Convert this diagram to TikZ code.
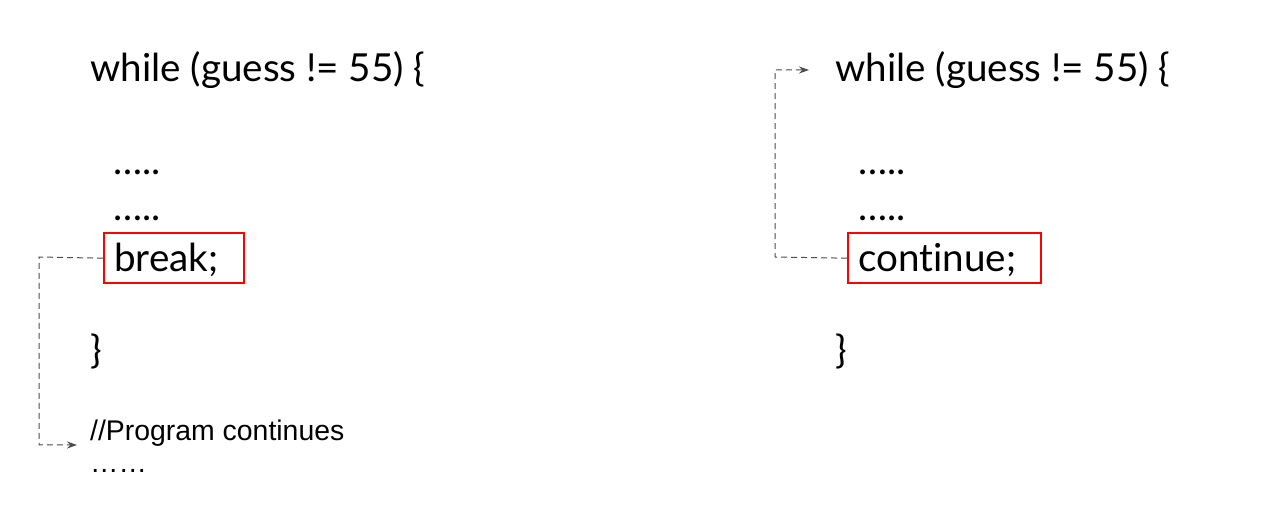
\documentclass[tikz,border=0pt]{standalone}
\usepackage{fontspec}
\setmainfont[Ligatures=NoCommon]{Lato}
\newfontfamily\arialf{Liberation Sans}
\usetikzlibrary{arrows.meta}
\tikzset{
  code/.style={anchor=base west, inner sep=0pt, font=\fontsize{38.6}{44}\selectfont},
  note/.style={anchor=base west, inner sep=0pt, font=\arialf\fontsize{28.4}{32}\selectfont},
  hl/.style={draw=red, line width=2.4pt, minimum width=#1, minimum height=50pt, inner sep=0pt, anchor=north west},
  jump/.style={draw=black!70, dashed, dash pattern=on 6pt off 4pt, line width=1pt, -{Stealth[length=10pt,width=7pt]}}
}
\begin{document}
\begin{tikzpicture}[x=1pt,y=-1pt]
\useasboundingbox (0,0) rectangle (1262,510);
% left
\node[code] (w1) at (90,82) {while (guess != 55) \{};
\node[code] (d1a) at (113,175) {…..};
\node[code] (d1b) at (113,221) {…..};
\node[hl=140pt] (b1) at (103,232) {};
\node[code] (t1) at (114,272) {break;};
\node[code] (c1) at (90,364) {\}};
\node[note] (p1) at (90,441) {//Program continues};
\node[note] (p2) at (90,473) {……};
\coordinate (a1) at (77,445);
\draw[jump] (b1.west) -- (39,257) |- (a1);
% right
\node[code] (w2) at (835,82) {while (guess != 55) \{};
\node[code] (d2a) at (858,175) {…..};
\node[code] (d2b) at (858,221) {…..};
\node[hl=193pt] (b2) at (847,232) {};
\node[code] (t2) at (858,272) {continue;};
\node[code] (c2) at (835,364) {\}};
\coordinate (a2) at (809,70);
\draw[jump] (b2.west) -- (775,257) |- (a2);
\end{tikzpicture}
\end{document}
